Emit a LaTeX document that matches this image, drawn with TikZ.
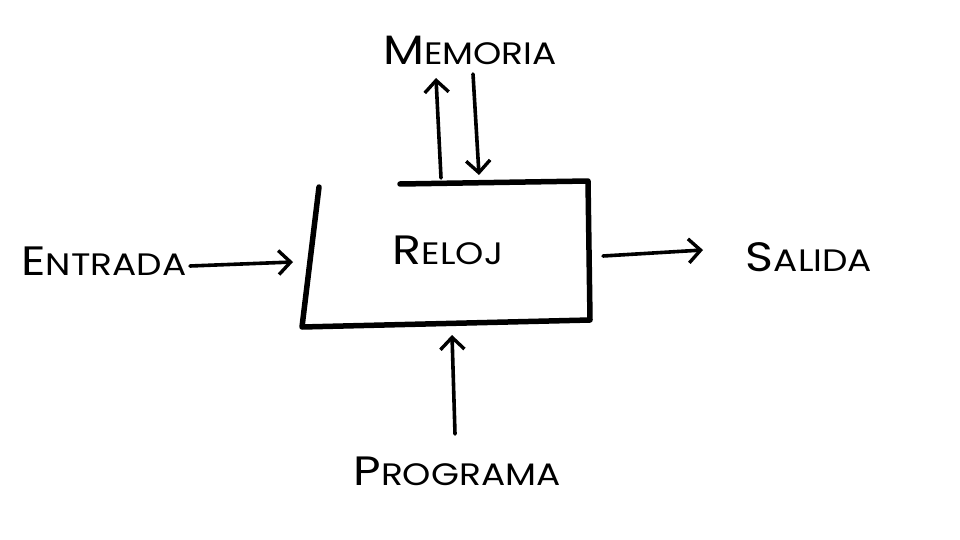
\documentclass[tikz,border=0pt]{standalone}
\usepackage{fontspec}
\usepackage{graphicx}
\setmainfont{Poppins}
\usetikzlibrary{arrows.meta}
\newcommand{\fsc}[2]{\scalebox{1.16}[1]{{\fontsize{41}{41}\selectfont #1}{\fontsize{31}{31}\selectfont #2}}}
\begin{document}
\begin{tikzpicture}[x=1pt,y=-1pt,
  lbl/.style={inner sep=0pt, anchor=center},
  conn/.style={line width=3.6pt, line cap=round, -{Straight Barb[length=12pt,width=24pt,line width=3.4pt]}},
  edge/.style={line width=5.5pt, line cap=round, line join=round}]
\useasboundingbox[fill=white] (0,0) rectangle (960,540);
% labels
\node[lbl] (mem) at (470,50) {\fsc{M}{EMORIA}};
\node[lbl] (ent) at (104,261) {\fsc{E}{NTRADA}};
\node[lbl] (sal) at (809,257) {\fsc{S}{ALIDA}};
\node[lbl] (prog) at (457,471) {\fsc{P}{ROGRAMA}};
\node[lbl] (reloj) at (448,250) {\fsc{R}{ELOJ}};
% box corners
\coordinate (tl) at (319,187);
\coordinate (tg) at (400,184);
\coordinate (tr) at (588,181);
\coordinate (br) at (590,320);
\coordinate (bl) at (302,327);
\draw[edge] (tg) -- (tr) -- (br) -- (bl) -- (tl);
% connector endpoints
\coordinate (mu1) at (441,178);
\coordinate (mu2) at (436,78);
\coordinate (md1) at (473,74);
\coordinate (md2) at (479,175);
\coordinate (e1) at (190,266);
\coordinate (e2) at (293,262);
\coordinate (s1) at (603,256);
\coordinate (s2) at (703,250);
\coordinate (p1) at (455,434);
\coordinate (p2) at (452,335);
\draw[conn] (mu1) -- (mu2);
\draw[conn] (md1) -- (md2);
\draw[conn] (e1) -- (e2);
\draw[conn] (s1) -- (s2);
\draw[conn] (p1) -- (p2);
\end{tikzpicture}
\end{document}
